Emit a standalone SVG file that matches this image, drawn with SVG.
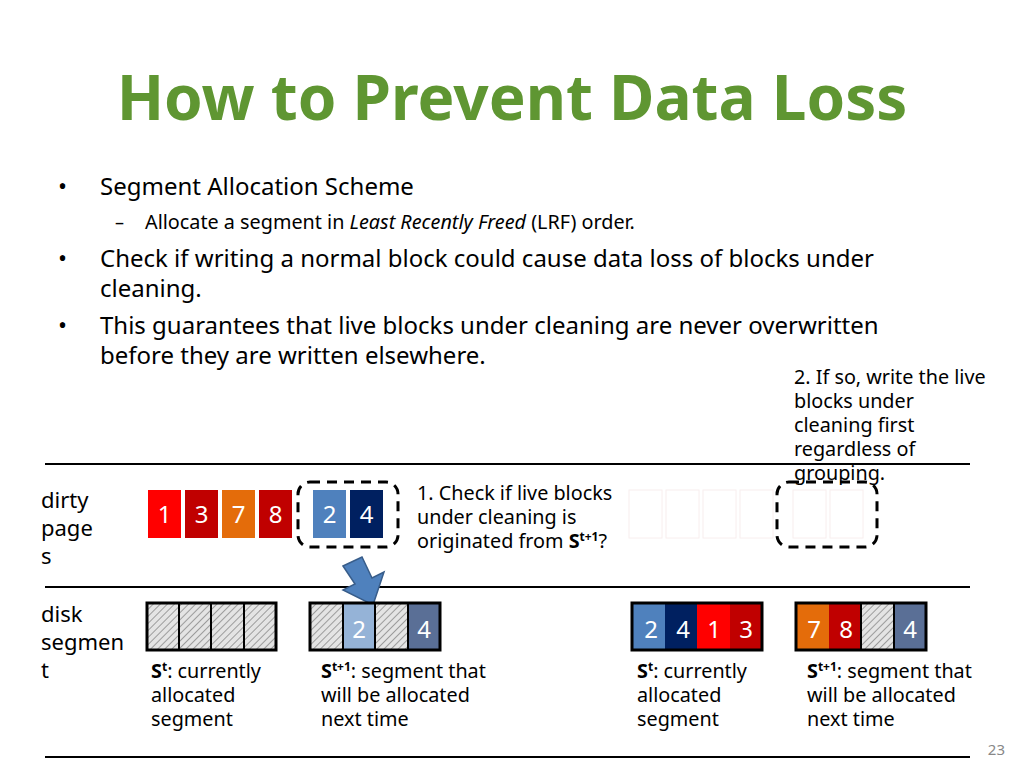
<svg xmlns="http://www.w3.org/2000/svg" width="1024" height="768" viewBox="0 0 1024 768">
<style>
text{font-family:"Noto Sans","Open Sans","DejaVu Sans",sans-serif;}
.b{font-size:24px;fill:#000}
.s{font-size:19.8px;fill:#000}
.t{font-size:18px;fill:#000}
.l{font-size:22px;fill:#000}
.n{font-size:24px;fill:#fff;text-anchor:middle}
.seg{fill:none;stroke:#000;stroke-width:3}
.div{stroke:#000;stroke-width:2}
.dash{fill:none;stroke:#000;stroke-width:3;stroke-dasharray:10,7}
</style>
<defs>
<pattern id="h" width="5" height="5" patternUnits="userSpaceOnUse" patternTransform="rotate(45)">
<rect width="5" height="5" fill="#e4e4e4"/><line x1="0" y1="0" x2="0" y2="5" stroke="#555" stroke-width="1"/>
</pattern>
</defs>
<rect width="1024" height="768" fill="#fff"/>
<text x="512" y="120" font-size="62" font-weight="bold" fill="#5f9632" text-anchor="middle">How to Prevent Data Loss</text>
<g id="bullets">
<text class="b" x="58" y="195">•</text><text class="b" x="100" y="195">Segment Allocation Scheme</text>
<text class="t" x="115" y="229">–</text><text class="s" x="145" y="229">Allocate a segment in <tspan font-style="italic">Least Recently Freed</tspan> (LRF) order.</text>
<text class="b" x="58" y="267">•</text><text class="b" x="100" y="267">Check if writing a normal block could cause data loss of blocks under</text>
<text class="b" x="100" y="297">cleaning.</text>
<text class="b" x="58" y="334">•</text><text class="b" x="100" y="334">This guarantees that live blocks under cleaning are never overwritten</text>
<text class="b" x="100" y="364">before they are written elsewhere.</text>
</g>
<g id="lines">
<line class="div" x1="45" y1="464" x2="970" y2="464"/>
<line class="div" x1="45" y1="587" x2="970" y2="587"/>
<line class="div" x1="45" y1="757" x2="970" y2="757"/>
</g>
<g id="labels">
<text class="l" x="41" y="508">dirty</text><text class="l" x="41" y="536">page</text><text class="l" x="41" y="564">s</text>
<text class="l" x="41" y="622">disk</text><text class="l" x="41" y="650">segmen</text><text class="l" x="41" y="678">t</text>
<text class="s" x="417" y="500">1. Check if live blocks</text>
<text class="s" x="417" y="524">under cleaning is</text>
<text class="s" x="417" y="548">originated from <tspan font-weight="bold">S</tspan><tspan font-weight="bold" font-size="12" dy="-7">t+1</tspan><tspan dy="7">?</tspan></text>
<text class="s" x="794" y="384">2. If so, write the live</text>
<text class="s" x="794" y="408">blocks under</text>
<text class="s" x="794" y="432">cleaning first</text>
<text class="s" x="794" y="456">regardless of</text>
<text class="s" x="794" y="480">grouping.</text>
<text class="s" x="151" y="678"><tspan font-weight="bold">S</tspan><tspan font-weight="bold" font-size="12" dy="-7">t</tspan><tspan dy="7">: currently</tspan></text>
<text class="s" x="151" y="702">allocated</text><text class="s" x="151" y="726">segment</text>
<text class="s" x="321" y="678"><tspan font-weight="bold">S</tspan><tspan font-weight="bold" font-size="12" dy="-7">t+1</tspan><tspan dy="7">: segment that</tspan></text>
<text class="s" x="321" y="702">will be allocated</text><text class="s" x="321" y="726">next time</text>
<text class="s" x="637" y="678"><tspan font-weight="bold">S</tspan><tspan font-weight="bold" font-size="12" dy="-7">t</tspan><tspan dy="7">: currently</tspan></text>
<text class="s" x="637" y="702">allocated</text><text class="s" x="637" y="726">segment</text>
<text class="s" x="807" y="678"><tspan font-weight="bold">S</tspan><tspan font-weight="bold" font-size="12" dy="-7">t+1</tspan><tspan dy="7">: segment that</tspan></text>
<text class="s" x="807" y="702">will be allocated</text><text class="s" x="807" y="726">next time</text>
<text x="1005" y="755" font-size="15" fill="#888" text-anchor="end">23</text>
</g>
<g id="dirty">
<rect x="148" y="490" width="33" height="48" fill="#ff0000"/><text class="n" x="164.5" y="523">1</text>
<rect x="185" y="490" width="33" height="48" fill="#c00000"/><text class="n" x="201.5" y="523">3</text>
<rect x="222" y="490" width="33" height="48" fill="#e46c0a"/><text class="n" x="238.5" y="523">7</text>
<rect x="259" y="490" width="33" height="48" fill="#c00000"/><text class="n" x="275.5" y="523">8</text>
<rect x="313" y="490" width="33" height="48" fill="#4f81bd"/><text class="n" x="329.5" y="523">2</text>
<rect x="350" y="490" width="33" height="48" fill="#002060"/><text class="n" x="366.5" y="523">4</text>
<rect class="dash" x="298" y="482" width="100" height="65" rx="12"/>
<g fill="none" stroke="#f8eeee" stroke-width="1">
<rect x="629" y="490" width="33" height="48"/><rect x="666" y="490" width="33" height="48"/><rect x="703" y="490" width="33" height="48"/><rect x="740" y="490" width="33" height="48"/><rect x="793" y="490" width="33" height="48"/><rect x="830" y="490" width="33" height="48"/>
</g>
<rect class="dash" x="777" y="482" width="100" height="65" rx="12"/>
</g>
<g id="arrow">
<polygon points="343,566 362,557 372,578 384,572 373,605 343,590 355,584" fill="#4f81bd" stroke="#385d8a" stroke-width="1.5"/>
</g>
<g id="seg1">
<rect x="147" y="603" width="129" height="47" fill="url(#h)"/>
<line class="div" x1="179" y1="603" x2="179" y2="650"/><line class="div" x1="211" y1="603" x2="211" y2="650"/><line class="div" x1="244" y1="603" x2="244" y2="650"/>
<rect class="seg" x="147" y="603" width="129" height="47"/>
</g>
<g id="seg2">
<rect x="310" y="603" width="130" height="47" fill="url(#h)"/>
<rect x="343" y="603" width="32" height="47" fill="#95b3d7"/>
<rect x="408" y="603" width="32" height="47" fill="#5a6f96"/>
<line class="div" x1="343" y1="603" x2="343" y2="650"/><line class="div" x1="375" y1="603" x2="375" y2="650"/><line class="div" x1="408" y1="603" x2="408" y2="650"/>
<text class="n" x="359" y="638">2</text><text class="n" x="424" y="638">4</text>
<rect class="seg" x="310" y="603" width="130" height="47"/>
</g>
<g id="seg3">
<rect x="632" y="603" width="33" height="47" fill="#4f81bd"/><rect x="665" y="603" width="32" height="47" fill="#002060"/>
<rect x="697" y="603" width="33" height="47" fill="#ff0000"/><rect x="730" y="603" width="32" height="47" fill="#c00000"/>
<text class="n" x="651" y="638">2</text><text class="n" x="683" y="638">4</text><text class="n" x="714" y="638">1</text><text class="n" x="746" y="638">3</text>
<rect class="seg" x="632" y="603" width="130" height="47"/>
</g>
<g id="seg4">
<rect x="796" y="603" width="33" height="47" fill="#e46c0a"/><rect x="829" y="603" width="32" height="47" fill="#c00000"/>
<rect x="861" y="603" width="33" height="47" fill="url(#h)"/><rect x="894" y="603" width="32" height="47" fill="#5a6f96"/>
<line class="div" x1="861" y1="603" x2="861" y2="650"/><line class="div" x1="894" y1="603" x2="894" y2="650"/>
<text class="n" x="814" y="638">7</text><text class="n" x="846" y="638">8</text><text class="n" x="910" y="638">4</text>
<rect class="seg" x="796" y="603" width="130" height="47"/>
</g>
</svg>
